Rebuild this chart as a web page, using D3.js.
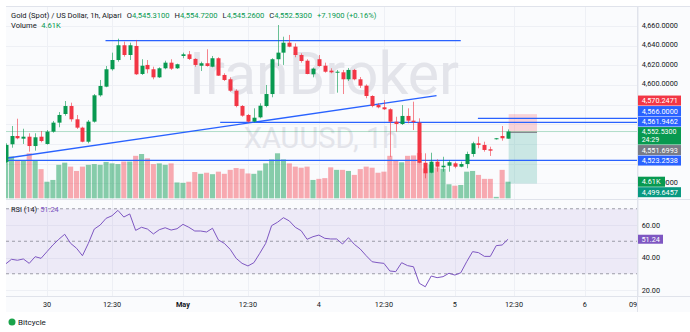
<!DOCTYPE html>
<html>
<head>
<meta charset="utf-8">
<script src="https://cdn.jsdelivr.net/npm/d3@7"></script>
<style>
    html, body { margin: 0; padding: 0; background: #ffffff; }
    svg { display: block; font-family: Roboto, "Noto Sans", sans-serif; }
</style>
</head>
<body>
<div class="draw-area"></div>
<script>
// ===================================================
// DATA  (XAUUSD 1h)
// ===================================================
const candleOpen = [
    4521.6, 4539.6, 4548.0, 4545.3, 4547.3, 4537.8, 4547.3, 4539.9, 4552.4, 4561.6,
    4570.4, 4578.5, 4565.0, 4556.5, 4542.2, 4562.6, 4589.4, 4598.2, 4615.9, 4625.3,
    4640.3, 4630.4, 4639.6, 4611.1, 4620.3, 4615.9, 4607.7, 4616.9, 4622.6, 4616.9,
    4629.4, 4631.1, 4626.4, 4619.5, 4622.0, 4618.5, 4627.1, 4610.1, 4605.7, 4594.1,
    4578.5, 4569.4, 4562.6, 4567.0, 4578.5, 4590.7, 4626.1, 4632.8, 4642.9, 4638.9,
    4630.4, 4624.6, 4610.8, 4626.1, 4619.5, 4614.5, 4612.4, 4612.8, 4605.7, 4615.2,
    4605.7, 4599.2, 4588.7, 4579.5, 4577.2, 4575.2, 4562.6, 4560.2, 4568.4, 4563.6,
    4561.6, 4520.8, 4510.7, 4521.9, 4516.2, 4517.8, 4520.2, 4516.8, 4519.5, 4529.7,
    4540.6, 4538.9, 4534.5, 4544.7, 4548.0, 4545.31
];
const candleHigh = [
    4540.6, 4558.2, 4565.6, 4555.4, 4550.8, 4550.8, 4553.1, 4554.1, 4563.3, 4572.4,
    4583.6, 4581.9, 4569.4, 4557.5, 4564.3, 4590.7, 4605.0, 4619.2, 4632.8, 4647.0,
    4644.0, 4642.9, 4645.7, 4626.1, 4625.3, 4618.5, 4617.9, 4624.6, 4626.1, 4621.6,
    4632.8, 4634.5, 4627.1, 4623.6, 4636.2, 4629.4, 4628.1, 4611.8, 4607.7, 4595.5,
    4579.5, 4570.4, 4576.2, 4581.3, 4599.9, 4627.1, 4660.9, 4649.0, 4650.8, 4642.3,
    4632.1, 4626.1, 4617.5, 4630.4, 4622.6, 4616.9, 4615.2, 4615.2, 4617.2, 4616.2,
    4608.0, 4600.5, 4589.5, 4581.3, 4584.6, 4576.2, 4567.6, 4579.5, 4576.2, 4582.9,
    4566.0, 4530.4, 4531.0, 4524.3, 4526.9, 4523.6, 4521.9, 4521.9, 4532.1, 4542.2,
    4547.3, 4542.2, 4537.1, 4546.0, 4558.2, 4554.72
];
const candleLow = [
    4520.5, 4536.1, 4544.7, 4539.9, 4532.1, 4533.1, 4541.6, 4539.2, 4551.4, 4556.9,
    4568.7, 4562.6, 4555.2, 4541.6, 4540.6, 4561.6, 4588.0, 4597.6, 4614.5, 4623.6,
    4628.7, 4625.3, 4610.1, 4610.1, 4611.8, 4605.7, 4607.0, 4615.9, 4615.2, 4616.2,
    4627.1, 4625.3, 4618.5, 4614.1, 4618.5, 4617.9, 4609.1, 4604.0, 4593.1, 4577.2,
    4567.6, 4561.6, 4561.9, 4566.0, 4577.2, 4587.4, 4619.2, 4620.3, 4638.3, 4628.1,
    4622.6, 4610.8, 4607.7, 4618.5, 4612.4, 4611.8, 4592.1, 4590.7, 4604.0, 4604.7,
    4596.9, 4586.4, 4577.2, 4576.2, 4574.5, 4526.9, 4552.4, 4559.2, 4560.9, 4554.1,
    4520.2, 4505.0, 4510.1, 4511.7, 4511.7, 4511.7, 4515.2, 4516.2, 4515.2, 4526.9,
    4535.5, 4532.1, 4527.7, 4544.4, 4543.2, 4545.26
];
const candleClose = [
    4538.9, 4548.0, 4545.7, 4547.3, 4537.8, 4546.7, 4542.9, 4552.4, 4561.6, 4569.4,
    4578.5, 4565.0, 4556.5, 4542.2, 4562.6, 4589.4, 4598.9, 4615.9, 4625.3, 4640.3,
    4630.4, 4640.3, 4610.8, 4619.5, 4615.9, 4607.7, 4616.9, 4622.6, 4616.5, 4621.0,
    4631.1, 4626.4, 4620.3, 4622.0, 4619.2, 4627.1, 4609.4, 4605.0, 4594.1, 4578.5,
    4568.7, 4562.6, 4566.6, 4578.8, 4590.7, 4626.1, 4632.8, 4642.9, 4638.9, 4630.4,
    4624.3, 4611.1, 4616.5, 4619.2, 4613.4, 4612.8, 4613.4, 4605.7, 4615.2, 4605.7,
    4599.2, 4588.7, 4578.5, 4577.2, 4575.2, 4562.6, 4560.2, 4568.4, 4563.6, 4562.3,
    4520.8, 4510.1, 4521.9, 4516.8, 4517.8, 4521.3, 4516.8, 4519.5, 4529.7, 4540.6,
    4538.9, 4533.8, 4533.1, 4545.7, 4545.7, 4552.53
];
// volume in thousands
const volumeK = [
    11.5, 11.6, 10.6, 10.6, 12.5, 10.6, 8.1, 4.6, 5.1, 9.3,
    9.9, 8.8, 7.6, 8.8, 9.3, 9.5, 9.3, 10.1, 9.7, 9.5,
    10.2, 10.2, 11.8, 12.3, 11.1, 9.5, 9.7, 9.3, 9.7, 4.4,
    4.3, 4.6, 7.3, 6.8, 7.1, 6.7, 7.4, 6.8, 7.9, 8.4,
    8.2, 6.9, 6.8, 7.7, 9.7, 10.8, 12.5, 10.8, 9.7, 8.8,
    8.5, 8.8, 5.1, 5.4, 5.6, 8.6, 7.9, 7.9, 7.6, 6.5,
    8.1, 8.8, 8.5, 7.1, 7.4, 11.8, 10.6, 10.0, 11.8, 11.9,
    12.6, 8.3, 9.4, 8.6, 8.2, 3.9, 3.5, 3.7, 7.4, 7.6,
    6.5, 5.4, 5.4, 0.4, 7.9, 4.61
];
const rsi14 = [
    36.0, 38.9, 38.3, 39.1, 36.4, 40.5, 39.5, 43.6, 47.7, 51.2,
    54.3, 48.7, 45.7, 41.1, 48.7, 57.5, 60.0, 64.1, 65.7, 69.0,
    64.9, 66.8, 56.7, 58.6, 57.5, 54.5, 57.1, 58.3, 56.9, 57.7,
    60.4, 58.6, 56.3, 56.3, 55.7, 58.0, 50.8, 48.7, 45.0, 39.5,
    36.4, 34.8, 36.8, 42.6, 48.7, 59.6, 61.7, 64.5, 62.5, 58.6,
    56.5, 51.2, 52.8, 53.8, 51.8, 51.4, 51.4, 48.3, 52.2, 48.1,
    45.2, 41.1, 37.4, 36.8, 36.4, 31.7, 31.3, 36.8, 35.0, 34.3,
    24.1, 22.0, 28.6, 27.6, 28.2, 30.3, 29.2, 30.6, 37.4, 43.6,
    43.0, 40.7, 40.7, 47.3, 47.7, 51.24
];

// Time axis (bar index -> label)
const timeTickIndex = [7, 18, 30, 41, 53, 64, 76, 86, 98, 107];
const timeTickLabel = ["30", "12:30", "May", "12:30", "4", "12:30", "5", "12:30", "6", "09:30"];

const priceTicks = [4500, 4520, 4540, 4560, 4580, 4600, 4620, 4640, 4660];
const rsiTicks = [20, 40, 60];
const rsiLevels = [70, 50, 30];

// Drawings: [startBar, startPrice, endBar, endPrice]
const trendLines = [
    [16.9, 4645.0, 77.0, 4645.0],
    [0, 4525.3, 72.9, 4589.0],
    [0, 4523.2538, 110, 4523.2538],
    [36.3, 4561.9462, 110, 4561.9462],
    [79.9, 4566.0, 110, 4566.0]
];
// Short position tool: bars and prices
const positionBars = [85.1, 89.9];
const positionPrices = { stop: 4570.2471, entry: 4551.6993, target: 4499.6457 };

// Right scale labels
const scaleLabelValues = [4570.2471, 4566.0, 4561.9462, 4552.53, 4551.6993, 4523.2538, 4499.6457];
const scaleLabelKinds  = ["stop", "line", "line", "last", "entry", "line", "target"];
const countdownText = "24:29";
const volumeLabel = "4.61K";

// Legend texts
const titleText = "Gold (Spot) / US Dollar, 1h, Alpari";
const ohlcKeys = ["O", "H", "L", "C"];
const ohlcValues = ["4,545.3100", "4,554.7200", "4,545.2600", "4,552.5300"];
const changeText = "+7.1900 (+0.16%)";
const rsiTitle = "RSI (14)";
const watermarkMain = "IranBroker";
const watermarkSub = "XAUUSD, 1h";
const footerText = "Bitcycle";


// ===================================================
// COLOURS / LAYOUT
// ===================================================
const UP = "#089950";
const DOWN = "#f23645";
const BLUE = "#2962ff";
const TEAL = "#089981";
const GRAY = "#787b86";
const TEXT = "#131722";
const GRID = "#eef0f5";
const BORDER = "#e0e3eb";
const RSI_LINE = "#7e57c2";

const W = 690, H = 332;
const pane = { left: 6, right: 637, top: 6, mainBottom: 199, rsiBottom: 296, axisBottom: 312 };

const fmt4 = d3.format(",.4f");


// ===================================================
// SCALES
// ===================================================
const x = d3.scaleLinear().domain([0, 107]).range([5.6, 638.1]);
const y = d3.scaleLinear().domain([4500, 4660]).range([183.2, 25.9]);
const yVol = d3.scaleLinear().domain([0, 12.5]).range([198.3, 153.3]);
const yRsi = d3.scaleLinear().domain([20, 60]).range([290, 225]);

const candles = candleOpen.map((o, i) => ({
    i, o, h: candleHigh[i], l: candleLow[i], c: candleClose[i], v: volumeK[i], up: candleClose[i] >= o
}));


// ===================================================
// DRAW
// ===================================================
const svg = d3.select(".draw-area")
    .append("svg")
    .attr("width", W)
    .attr("height", H);

const defs = svg.append("defs");
defs.append("clipPath").attr("id", "clip-main")
    .append("rect").attr("x", pane.left).attr("y", pane.top)
    .attr("width", pane.right - pane.left).attr("height", pane.mainBottom - pane.top);
defs.append("clipPath").attr("id", "clip-rsi")
    .append("rect").attr("x", pane.left).attr("y", pane.mainBottom)
    .attr("width", pane.right - pane.left).attr("height", pane.rsiBottom - pane.mainBottom);
defs.append("clipPath").attr("id", "clip-time")
    .append("rect").attr("x", pane.left).attr("y", pane.rsiBottom)
    .attr("width", pane.right - pane.left).attr("height", pane.axisBottom - pane.rsiBottom);
// only the tail of a tick label peeks out from under the volume tag
defs.append("clipPath").attr("id", "clip-under-volume")
    .append("rect").attr("x", 665).attr("y", 170).attr("width", 25).attr("height", 20);

// Backgrounds
svg.append("rect").attr("width", W).attr("height", H).attr("fill", "#ffffff");
svg.append("rect")
    .attr("x", pane.left).attr("y", pane.top)
    .attr("width", W - pane.left).attr("height", pane.axisBottom - pane.top)
    .attr("fill", "#fafbfd");

// Grid -------------------------------------------------
const grid = svg.append("g").attr("stroke", GRID).attr("stroke-width", 1);
grid.selectAll(".vgrid").data(timeTickIndex).join("line")
    .attr("x1", d => Math.round(x(d)) + 0.5).attr("x2", d => Math.round(x(d)) + 0.5)
    .attr("y1", pane.top).attr("y2", pane.rsiBottom);
grid.selectAll(".hgrid").data(priceTicks).join("line")
    .attr("x1", pane.left).attr("x2", pane.right)
    .attr("y1", d => Math.round(y(d)) + 0.5).attr("y2", d => Math.round(y(d)) + 0.5);
grid.selectAll(".rgrid").data(rsiTicks).join("line")
    .attr("x1", pane.left).attr("x2", pane.right)
    .attr("y1", d => Math.round(yRsi(d)) + 0.5).attr("y2", d => Math.round(yRsi(d)) + 0.5);

// Watermark --------------------------------------------
const wm = svg.append("g").attr("fill", "#e3e4ea").attr("text-anchor", "middle");
wm.append("text").attr("x", 324).attr("y", 94).attr("font-size", 59).text(watermarkMain);
wm.append("text").attr("x", 321).attr("y", 148).attr("font-size", 29).text(watermarkSub);

// Main pane layer
const main = svg.append("g").attr("clip-path", "url(#clip-main)");

// Volume bars
main.append("g").selectAll("rect").data(candles).join("rect")
    .attr("x", d => x(d.i) - 2.55)
    .attr("width", 5.1)
    .attr("y", d => yVol(d.v))
    .attr("height", d => yVol(0) - yVol(d.v))
    .attr("fill", d => d.up ? UP : DOWN)
    .attr("fill-opacity", d => d.up ? 0.48 : 0.42);

// Position tool (short)
const px0 = x(positionBars[0]), px1 = x(positionBars[1]);
main.append("rect")
    .attr("x", px0).attr("width", px1 - px0)
    .attr("y", y(positionPrices.stop)).attr("height", y(positionPrices.entry) - y(positionPrices.stop))
    .attr("fill", DOWN).attr("fill-opacity", 0.2);
main.append("rect")
    .attr("x", px0).attr("width", px1 - px0)
    .attr("y", y(positionPrices.entry)).attr("height", y(positionPrices.target) - y(positionPrices.entry))
    .attr("fill", TEAL).attr("fill-opacity", 0.2);
main.append("line")
    .attr("x1", px0).attr("x2", px1)
    .attr("y1", y(positionPrices.entry)).attr("y2", y(positionPrices.entry))
    .attr("stroke", GRAY).attr("stroke-width", 1);

// Last price line
const lastClose = candleClose[candleClose.length - 1];
main.append("line")
    .attr("x1", pane.left).attr("x2", pane.right)
    .attr("y1", y(lastClose)).attr("y2", y(lastClose))
    .attr("stroke", UP).attr("stroke-opacity", 0.3).attr("stroke-width", 1);

// Trend lines
main.append("g").selectAll("line").data(trendLines).join("line")
    .attr("x1", d => x(d[0])).attr("y1", d => y(d[1]))
    .attr("x2", d => x(d[2])).attr("y2", d => y(d[3]))
    .attr("stroke", BLUE).attr("stroke-width", 1.3);

// Candles
const candleG = main.append("g").selectAll("g").data(candles).join("g");
candleG.append("line")
    .attr("x1", d => Math.round(x(d.i)) + 0.5).attr("x2", d => Math.round(x(d.i)) + 0.5)
    .attr("y1", d => y(d.h)).attr("y2", d => y(d.l))
    .attr("stroke", d => d.up ? UP : DOWN)
    .attr("stroke-opacity", 0.6)
    .attr("stroke-width", 1);
candleG.append("rect")
    .attr("x", d => Math.round(x(d.i)) + 0.5 - 2)
    .attr("width", 4)
    .attr("y", d => y(Math.max(d.o, d.c)))
    .attr("height", d => Math.max(1, Math.abs(y(d.o) - y(d.c))))
    .attr("fill", d => d.up ? UP : DOWN);

// RSI pane ---------------------------------------------
const rsiG = svg.append("g").attr("clip-path", "url(#clip-rsi)");
rsiG.append("rect")
    .attr("x", pane.left).attr("width", pane.right - pane.left)
    .attr("y", yRsi(rsiLevels[0])).attr("height", yRsi(rsiLevels[2]) - yRsi(rsiLevels[0]))
    .attr("fill", RSI_LINE).attr("fill-opacity", 0.1);
rsiG.selectAll(".lvl").data(rsiLevels).join("line")
    .attr("x1", pane.left).attr("x2", pane.right)
    .attr("y1", d => yRsi(d)).attr("y2", d => yRsi(d))
    .attr("stroke", GRAY).attr("stroke-opacity", 0.7)
    .attr("stroke-dasharray", "3,3");
rsiG.append("path")
    .datum(rsi14)
    .attr("fill", "none")
    .attr("stroke", RSI_LINE)
    .attr("stroke-width", 1)
    .attr("d", d3.line().x((d, i) => x(i)).y(d => yRsi(d)));

// Borders ---------------------------------------------
const borders = svg.append("g").attr("stroke", BORDER).attr("stroke-width", 1);
borders.append("line").attr("x1", pane.left).attr("x2", W).attr("y1", pane.top + 0.5).attr("y2", pane.top + 0.5);
borders.append("line").attr("x1", pane.left).attr("x2", W).attr("y1", pane.mainBottom + 0.5).attr("y2", pane.mainBottom + 0.5);
borders.append("line").attr("x1", pane.right + 0.5).attr("x2", pane.right + 0.5).attr("y1", pane.top).attr("y2", pane.axisBottom);
borders.append("line").attr("x1", pane.left).attr("x2", W).attr("y1", pane.rsiBottom + 0.5).attr("y2", pane.rsiBottom + 0.5);

// Time axis -------------------------------------------
svg.append("g").attr("clip-path", "url(#clip-time)")
    .selectAll("text").data(timeTickIndex).join("text")
    .attr("x", d => x(d)).attr("y", 306.5)
    .attr("text-anchor", "middle")
    .attr("font-size", 7.3)
    .attr("fill", TEXT)
    .attr("font-weight", (d, i) => timeTickLabel[i] === "May" ? "bold" : null)
    .text((d, i) => timeTickLabel[i]);

// Right scale labels -----------------------------------
const kindFill = { stop: DOWN, line: BLUE, last: UP, entry: GRAY, target: TEAL };
const labels = scaleLabelValues.map((v, k) => ({
    v, kind: scaleLabelKinds[k], text: fmt4(v), yc: y(v)
}));
const lastLabel = labels.find(d => d.kind === "last");
lastLabel.top = lastLabel.yc - 4.5;
lastLabel.bottom = lastLabel.yc + 13;

// push labels away from the last-price label
const above = labels.filter(d => d.kind !== "last" && d.yc <= lastLabel.yc).sort((a, b) => b.yc - a.yc);
let edge = lastLabel.top;
above.forEach(d => {
    d.bottom = Math.min(d.yc + 5, edge - 0.5);
    d.top = d.bottom - 10;
    edge = d.top;
});
const volLabel = { kind: "volume", text: volumeLabel, yc: yVol(volumeK[volumeK.length - 1]) };
const below = labels.filter(d => d.kind !== "last" && d.yc > lastLabel.yc).concat([volLabel]).sort((a, b) => a.yc - b.yc);
edge = lastLabel.bottom;
below.forEach(d => {
    d.top = Math.max(d.yc - 5, edge + 0.5);
    d.bottom = d.top + 10;
    edge = d.bottom;
});

// tick labels hidden where a price label sits on them
const visibleTicks = priceTicks.filter(t => {
    const ty = y(t);
    return !labels.some(b => ty + 3 > b.top && ty - 3 < b.bottom);
});
const coveredByVolume = t => Math.abs(y(t) - volLabel.yc) < 7;
svg.append("g").selectAll("text").data(visibleTicks).join("text")
    .attr("x", 641.7).attr("y", d => y(d) + 1.6)
    .attr("font-size", 7.3).attr("fill", TEXT)
    .attr("clip-path", d => coveredByVolume(d) ? "url(#clip-under-volume)" : null)
    .text(d => fmt4(d));
svg.append("g").selectAll("text").data(rsiTicks).join("text")
    .attr("x", 641.7).attr("y", d => yRsi(d) + 2.5)
    .attr("font-size", 7.3).attr("fill", TEXT)
    .text(d => d3.format(".2f")(d));

const labelG = svg.append("g");
labels.concat([volLabel]).forEach(d => {
    const g = labelG.append("g");
    const w = d.kind === "volume" ? 27 : 43;
    g.append("rect")
        .attr("x", 638).attr("y", d.top)
        .attr("width", w).attr("height", d.bottom - d.top)
        .attr("fill", d.kind === "volume" ? UP : kindFill[d.kind]);
    g.append("text")
        .attr("x", 641.7).attr("y", d.kind === "last" ? d.yc + 2.1 : (d.top + d.bottom) / 2 + 2.6)
        .attr("font-size", d.kind === "last" ? 7 : 7.3).attr("fill", "#ffffff")
        .text(d.text);
    if (d.kind === "last") {
        g.append("text")
            .attr("x", 641.7).attr("y", d.yc + 10.4)
            .attr("font-size", 7).attr("fill", "#ffffff")
            .text(countdownText);
    }
});

// RSI value label
const rsiLast = rsi14[rsi14.length - 1];
labelG.append("rect")
    .attr("x", 638).attr("y", yRsi(rsiLast) - 4.5)
    .attr("width", 25).attr("height", 9)
    .attr("fill", RSI_LINE);
labelG.append("text")
    .attr("x", 641.5).attr("y", yRsi(rsiLast) + 2.5)
    .attr("font-size", 7.3).attr("fill", "#ffffff")
    .text(d3.format(".2f")(rsiLast));

// Legend ---------------------------------------------
function inlineRow(yBase, parts) {
    let cx = 11;
    const g = svg.append("g").attr("font-size", 7.6);
    parts.forEach(p => {
        cx += p.gap || 0;
        const t = g.append("text").attr("x", cx).attr("y", yBase).attr("fill", p.color).text(p.text);
        cx += t.node().getComputedTextLength();
    });
}
const legendParts = [{ text: titleText, color: TEXT }];
ohlcKeys.forEach((k, i) => {
    legendParts.push({ text: k, color: TEXT, gap: 5 });
    legendParts.push({ text: ohlcValues[i], color: UP });
});
legendParts.push({ text: changeText, color: UP, gap: 5 });
inlineRow(17.7, legendParts);
inlineRow(27.7, [{ text: "Volume", color: TEXT }, { text: volumeLabel, color: UP, gap: 4.5 }]);

svg.append("text")
    .attr("x", 11).attr("y", 211.6)
    .attr("font-size", 7.4).attr("fill", TEXT)
    .text(rsiTitle)
    .append("tspan").attr("dx", 3).attr("fill", RSI_LINE)
    .text(d3.format(".2f")(rsiLast));

// Footer ---------------------------------------------
svg.append("circle").attr("cx", 12).attr("cy", 322).attr("r", 3.5).attr("fill", "#1aa34a");
svg.append("text")
    .attr("x", 18).attr("y", 325)
    .attr("font-size", 8).attr("fill", TEXT)
    .text(footerText);
</script>
</body>
</html>
